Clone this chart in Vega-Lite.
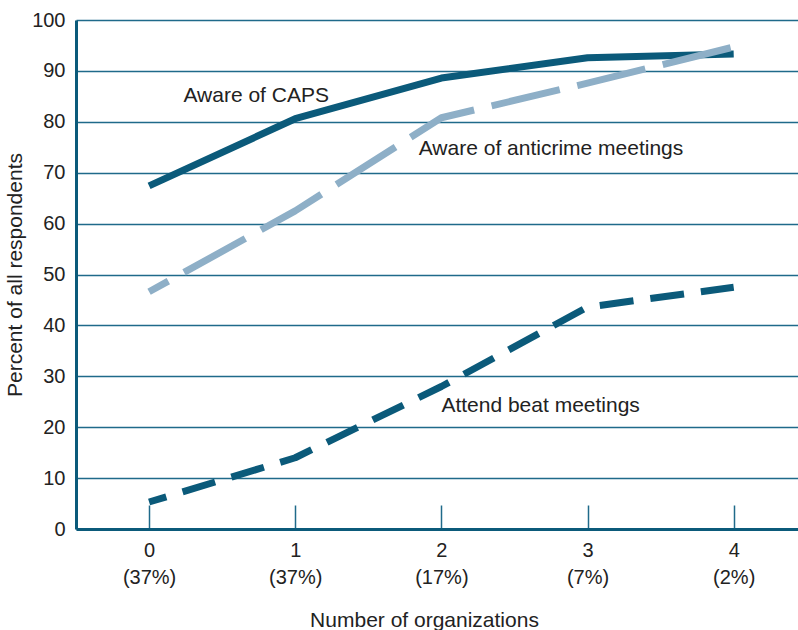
{
  "$schema": "https://vega.github.io/schema/vega-lite/v6.json",
  "width": 722,
  "height": 509,
  "autosize": {"type": "none"},
  "padding": {"left": 76, "top": 20, "right": 0, "bottom": 101},
  "config": {
    "view": {"stroke": null},
    "font": "Liberation Sans",
    "axis": {"labelFont": "Liberation Sans", "titleFont": "Liberation Sans", "labelColor": "#222222", "titleColor": "#222222", "titleFontWeight": "normal"}
  },
  "datasets": {
    "lines": [
      {"org": 0, "pct": 67.4, "series": "Aware of CAPS"},
      {"org": 1, "pct": 80.6, "series": "Aware of CAPS"},
      {"org": 2, "pct": 88.6, "series": "Aware of CAPS"},
      {"org": 3, "pct": 92.6, "series": "Aware of CAPS"},
      {"org": 4, "pct": 93.3, "series": "Aware of CAPS"},
      {"org": 0, "pct": 46.6, "series": "Aware of anticrime meetings"},
      {"org": 1, "pct": 62.5, "series": "Aware of anticrime meetings"},
      {"org": 2, "pct": 80.8, "series": "Aware of anticrime meetings"},
      {"org": 3, "pct": 87.6, "series": "Aware of anticrime meetings"},
      {"org": 4, "pct": 94.7, "series": "Aware of anticrime meetings"},
      {"org": 0, "pct": 5.3, "series": "Attend beat meetings"},
      {"org": 1, "pct": 14.0, "series": "Attend beat meetings"},
      {"org": 2, "pct": 28.0, "series": "Attend beat meetings"},
      {"org": 3, "pct": 43.6, "series": "Attend beat meetings"},
      {"org": 4, "pct": 47.5, "series": "Attend beat meetings"}
    ],
    "labels": [
      {"org": 0.235, "pct": 85.1, "text": "Aware of CAPS"},
      {"org": 1.845, "pct": 74.6, "text": "Aware of anticrime meetings"},
      {"org": 2.0, "pct": 24.2, "text": "Attend beat meetings"}
    ]
  },
  "layer": [
    {
      "data": {"name": "lines"},
      "transform": [{"filter": "datum.series === 'Aware of CAPS'"}],
      "mark": {"type": "line", "strokeWidth": 7, "interpolate": "linear", "strokeCap": "butt", "strokeJoin": "round", "color": "#0b5a7a"},
      "encoding": {
        "x": {
          "field": "org", "type": "quantitative",
          "scale": {"domain": [-0.5, 4.44], "nice": false, "zero": false},
          "axis": {
            "values": [0, 1, 2, 3, 4],
            "format": "d",
            "labelExpr": "[datum.label, ['(37%)','(37%)','(17%)','(7%)','(2%)'][datum.value]]",
            "labelFontSize": 20, "labelLineHeight": 27, "labelPadding": 35, "labelBaseline": "top",
            "labelFlush": false, "labelOverlap": false,
            "grid": false,
            "domainColor": "#0b5a7a", "domainWidth": 3,
            "tickColor": "#1f6a8a", "tickWidth": 1.5, "tickSize": -24,
            "title": "Number of organizations", "titleFontSize": 21, "titlePadding": 22, "titleX": 348
          }
        },
        "y": {
          "field": "pct", "type": "quantitative",
          "scale": {"domain": [0, 100], "nice": false},
          "axis": {
            "values": [0, 10, 20, 30, 40, 50, 60, 70, 80, 90, 100],
            "labelFontSize": 20, "labelPadding": 11, "ticks": false,
            "domainColor": "#0b5a7a", "domainWidth": 3,
            "gridColor": "#1f6a8a", "gridWidth": 1.5, "gridOpacity": 1,
            "title": "Percent of all respondents", "titleFontSize": 21, "titlePadding": 6
          }
        }
      }
    },
    {
      "data": {"name": "lines"},
      "transform": [{"filter": "datum.series === 'Aware of anticrime meetings'"}],
      "mark": {"type": "line", "strokeWidth": 7, "interpolate": "linear", "strokeCap": "butt", "strokeJoin": "round", "color": "#8eafc7", "strokeDash": [70, 18], "strokeDashOffset": 48},
      "encoding": {
        "x": {"field": "org", "type": "quantitative"},
        "y": {"field": "pct", "type": "quantitative"}
      }
    },
    {
      "data": {"name": "lines"},
      "transform": [{"filter": "datum.series === 'Attend beat meetings'"}],
      "mark": {"type": "line", "strokeWidth": 7, "interpolate": "linear", "strokeCap": "butt", "strokeJoin": "round", "color": "#0b5a7a", "strokeDash": [34, 17], "strokeDashOffset": 16},
      "encoding": {
        "x": {"field": "org", "type": "quantitative"},
        "y": {"field": "pct", "type": "quantitative"}
      }
    },
    {
      "data": {"name": "labels"},
      "mark": {"type": "text", "align": "left", "baseline": "middle", "fontSize": 21, "color": "#222222", "font": "Liberation Sans"},
      "encoding": {
        "x": {"field": "org", "type": "quantitative"},
        "y": {"field": "pct", "type": "quantitative"},
        "text": {"field": "text"}
      }
    }
  ]
}
